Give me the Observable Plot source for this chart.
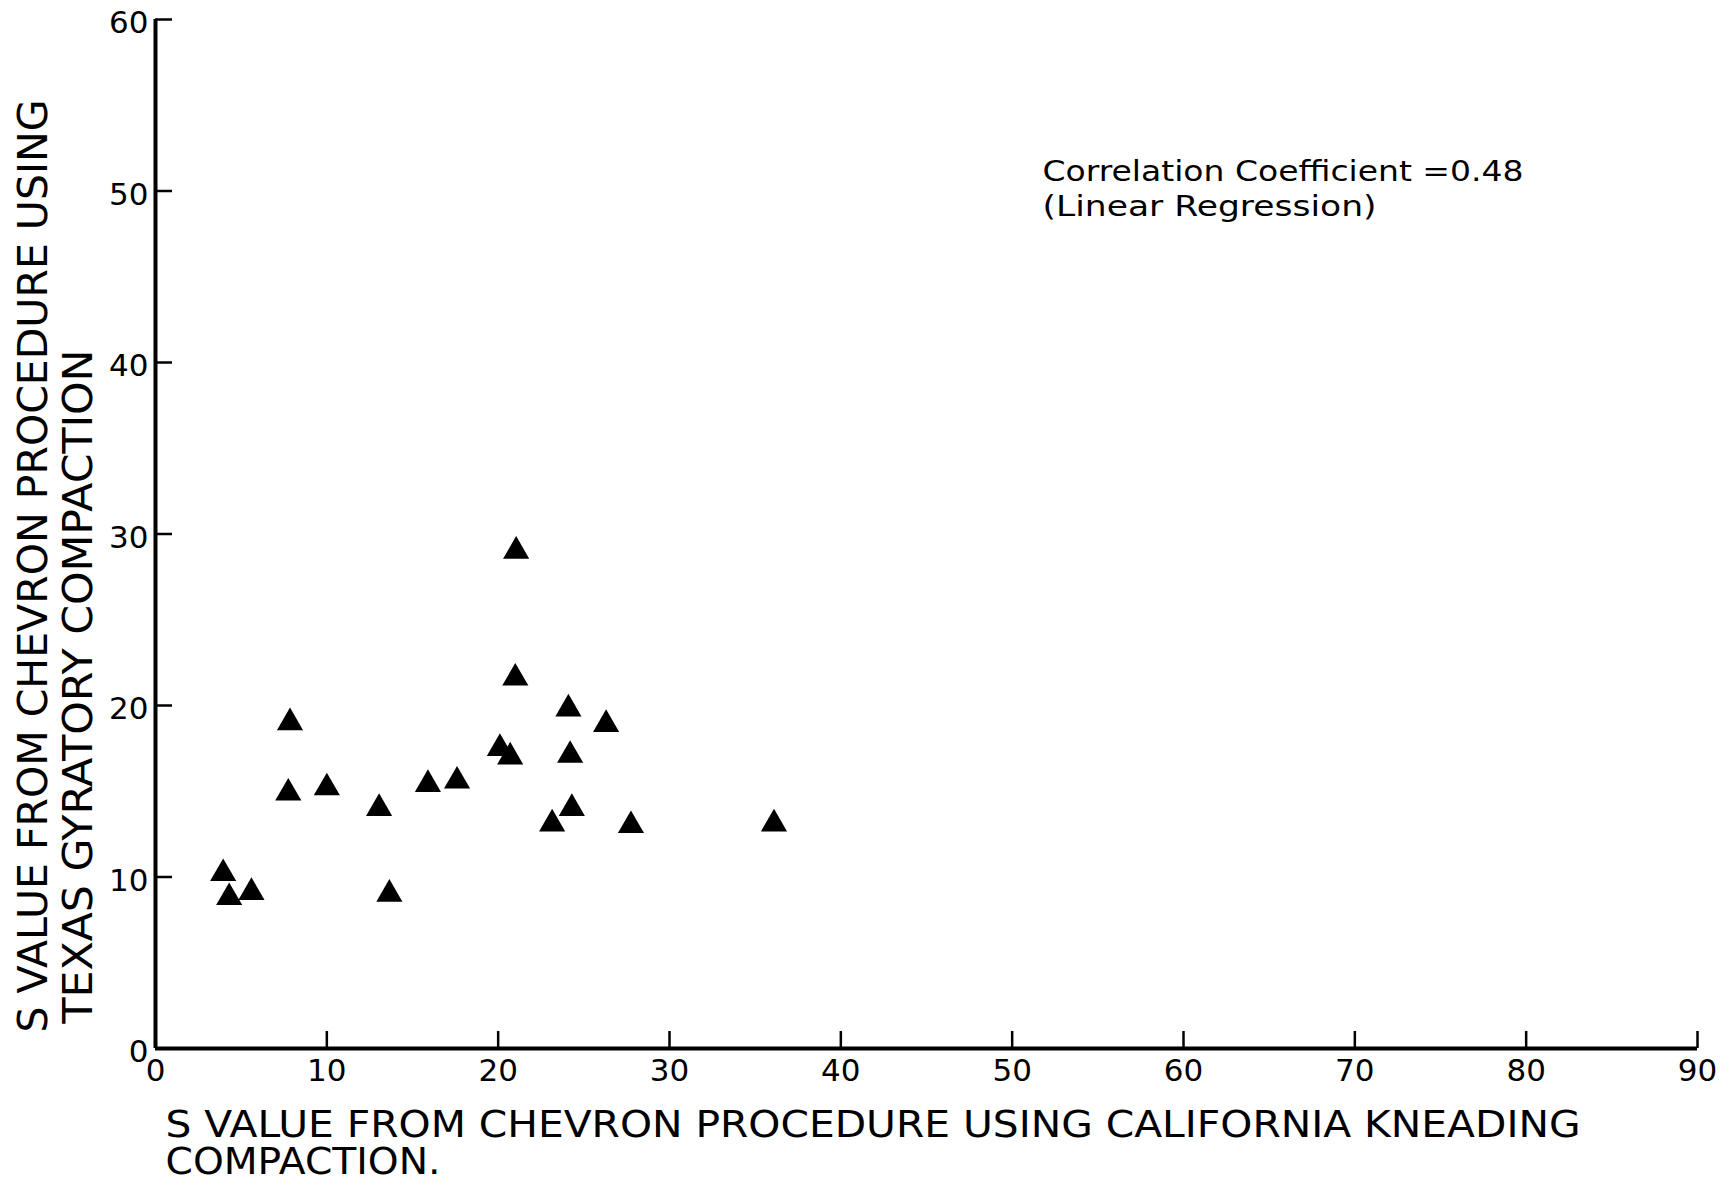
<!DOCTYPE html>
<html>
<head>
<meta charset="utf-8">
<script src="https://cdn.jsdelivr.net/npm/d3@7"></script>
<script src="https://cdn.jsdelivr.net/npm/@observablehq/plot@0.6"></script>
<style>
  html, body { margin: 0; padding: 0; background: #fff; }
</style>
</head>
<body>
<div id="chart"></div>
<script>
// S value, California kneading compaction (x)
const xValues = [3.95, 4.3, 5.6, 7.85, 7.75, 10.0, 13.05, 13.65, 15.9, 17.6, 20.1, 20.7, 21.05, 21.0, 24.1, 24.2, 23.15, 24.3, 26.3, 27.75, 36.1];
// S value, Texas gyratory compaction (y)
const yValues = [10.2, 8.8, 9.1, 19.0, 14.9, 15.2, 14.0, 9.0, 15.4, 15.6, 17.5, 17.0, 29.0, 21.6, 19.8, 17.1, 13.1, 14.0, 18.9, 13.0, 13.1];

const xTicks = [0, 10, 20, 30, 40, 50, 60, 70, 80, 90];
const yTicks = [0, 10, 20, 30, 40, 50, 60];

const xTitleLines = ["S VALUE FROM CHEVRON PROCEDURE USING CALIFORNIA KNEADING", "COMPACTION."];
const yTitleLines = ["S VALUE FROM CHEVRON PROCEDURE USING", "TEXAS GYRATORY COMPACTION"];
const noteLines = ["Correlation Coefficient =0.48", "(Linear Regression)"];

const points = xValues.map((x, i) => ({x, y: yValues[i]}));

const W = 1733, H = 1183;
const mL = 155, mR = 36, mT = 19, mB = 135;
const frameW = W - mL - mR, frameH = H - mT - mB;

const chart = Plot.plot({
  width: W,
  height: H,
  marginLeft: mL,
  marginRight: mR,
  marginTop: mT,
  marginBottom: mB,
  style: {fontFamily: "DejaVu Sans", fontSize: "31px", background: "white", color: "black"},
  x: {domain: [0, 90]},
  y: {domain: [0, 60]},
  marks: [
    Plot.axisX({ticks: xTicks, tickSize: 0, tickPadding: 10, label: null, fontSize: 31}),
    Plot.axisY({ticks: yTicks, tickSize: 0, tickPadding: 7, dy: 4, label: null, fontSize: 31}),
    // inward ticks
    Plot.tickX(xTicks, {x: d => d, insetTop: frameH - 17, stroke: "black", strokeWidth: 2.5}),
    Plot.tickY(yTicks, {y: d => d, insetRight: frameW - 17, stroke: "black", strokeWidth: 2.5}),
    // axis lines
    Plot.ruleX([0], {stroke: "black", strokeWidth: 4}),
    Plot.ruleY([0], {stroke: "black", strokeWidth: 4}),
    // data
    Plot.dot(points, {x: "x", y: "y", symbol: "triangle", r: 9.7, fill: "black", stroke: "none"}),
    // x title (two lines in one text)
    Plot.text([xTitleLines.join("\n")], {text: d => d, frameAnchor: "bottom-left", dx: 10, dy: 125, textAnchor: "start", lineAnchor: "bottom", lineHeight: 37 / 38, fontSize: 38}),
    // y title
    Plot.text([yTitleLines[0]], {text: d => d, frameAnchor: "bottom-left", dx: -109, dy: -16, rotate: -90, textAnchor: "start", lineAnchor: "bottom", fontSize: 41}),
    Plot.text([yTitleLines[1]], {text: d => d, frameAnchor: "bottom-left", dx: -64, dy: -25, rotate: -90, textAnchor: "start", lineAnchor: "bottom", fontSize: 41}),
    // annotation
    Plot.text([noteLines[0]], {text: d => d, frameAnchor: "top-left", dx: 887, dy: 161, textAnchor: "start", lineAnchor: "bottom", fontSize: 28}),
    Plot.text([noteLines[1]], {text: d => d, frameAnchor: "top-left", dx: 887, dy: 196, textAnchor: "start", lineAnchor: "bottom", fontSize: 28})
  ]
});

// fit hand-lettered widths
const lengths = new Map([
  [xTitleLines[0], 1415],
  [xTitleLines[1], 275],
  [yTitleLines[0], 933],
  [yTitleLines[1], 674],
  [noteLines[0], 481],
  [noteLines[1], 334]
]);
d3.select(chart).selectAll("text, tspan").each(function() {
  const t = this.textContent;
  if (lengths.has(t)) {
    this.setAttribute("textLength", lengths.get(t));
    this.setAttribute("lengthAdjust", "spacingAndGlyphs");
  }
});

document.getElementById("chart").appendChild(chart);
</script>
</body>
</html>
